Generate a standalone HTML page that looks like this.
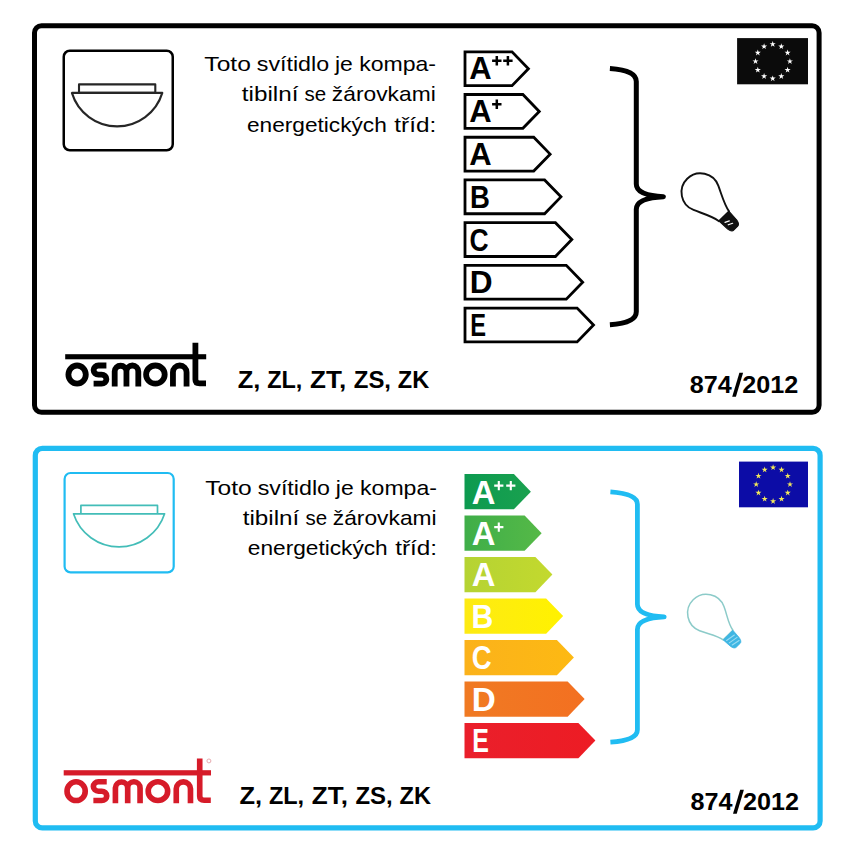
<!DOCTYPE html>
<html lang="cs"><head><meta charset="utf-8"><title>Energy label</title>
<style>html,body{margin:0;padding:0;background:#fff;}body{width:850px;height:850px;overflow:hidden;}svg{display:block;}text{font-family:"Liberation Sans", sans-serif;}</style>
</head><body>
<svg width="850" height="850" viewBox="0 0 850 850">
<rect x="0" y="0" width="850" height="850" fill="#fff"/>
<rect x="34.5" y="25.8" width="784.6" height="386.4" rx="7" ry="7" fill="#fff" stroke="#000" stroke-width="5"/>
<rect x="63.75" y="50.75" width="109" height="99.5" rx="6" ry="6" fill="#fff" stroke="#000" stroke-width="2.5"/>
<g fill="#fff" stroke="#262626" stroke-width="2.10" stroke-linejoin="round">
<rect x="79.00" y="84.40" width="76.30" height="8.50"/>
<path d="M71.90,92.90 L162.30,92.90 A47.24,47.24 0 0 1 71.90,92.90 Z"/>
</g>
<text x="204.38" y="70.70" font-size="21.10" font-weight="normal" fill="#000" text-anchor="start" textLength="46.50" lengthAdjust="spacingAndGlyphs" >Toto</text>
<text x="256.75" y="70.70" font-size="21.10" font-weight="normal" fill="#000" text-anchor="start" textLength="72.42" lengthAdjust="spacingAndGlyphs" >svítidlo</text>
<text x="334.96" y="70.70" font-size="21.10" font-weight="normal" fill="#000" text-anchor="start" textLength="17.86" lengthAdjust="spacingAndGlyphs" >je</text>
<text x="359.15" y="70.70" font-size="21.10" font-weight="normal" fill="#000" text-anchor="start" textLength="76.88" lengthAdjust="spacingAndGlyphs" >kompa-</text>
<text x="241.83" y="101.00" font-size="21.10" font-weight="normal" fill="#000" text-anchor="start" textLength="56.59" lengthAdjust="spacingAndGlyphs" >tibilní</text>
<text x="304.53" y="101.00" font-size="21.10" font-weight="normal" fill="#000" text-anchor="start" textLength="21.68" lengthAdjust="spacingAndGlyphs" >se</text>
<text x="331.88" y="101.00" font-size="21.10" font-weight="normal" fill="#000" text-anchor="start" textLength="103.86" lengthAdjust="spacingAndGlyphs" >žárovkami</text>
<text x="246.94" y="131.80" font-size="21.10" font-weight="normal" fill="#000" text-anchor="start" textLength="139.83" lengthAdjust="spacingAndGlyphs" >energetických</text>
<text x="394.33" y="131.80" font-size="21.10" font-weight="normal" fill="#000" text-anchor="start" textLength="41.89" lengthAdjust="spacingAndGlyphs" >tříd:</text>
<polygon points="465.00,51.80 512.03,51.80 528.42,68.70 512.03,85.60 465.00,85.60" fill="#fff" stroke="#000" stroke-width="2.80" stroke-linejoin="miter"/>
<text x="469.13" y="79.30" font-size="31.83" font-weight="bold" fill="#000" text-anchor="start" textLength="22.39" lengthAdjust="spacingAndGlyphs" >A</text>
<path d="M492.10,60.80 h9.40 M496.80,56.10 v9.40" stroke="#000" stroke-width="2.50" fill="none"/>
<path d="M503.20,60.80 h9.40 M507.90,56.10 v9.40" stroke="#000" stroke-width="2.50" fill="none"/>
<polygon points="465.00,94.52 522.88,94.52 539.27,111.42 522.88,128.32 465.00,128.32" fill="#fff" stroke="#000" stroke-width="2.80" stroke-linejoin="miter"/>
<text x="469.13" y="122.02" font-size="31.83" font-weight="bold" fill="#000" text-anchor="start" textLength="22.39" lengthAdjust="spacingAndGlyphs" >A</text>
<path d="M492.10,104.32 h9.40 M496.80,99.62 v9.40" stroke="#000" stroke-width="2.50" fill="none"/>
<polygon points="465.00,137.24 533.73,137.24 550.12,154.14 533.73,171.04 465.00,171.04" fill="#fff" stroke="#000" stroke-width="2.80" stroke-linejoin="miter"/>
<text x="469.13" y="165.24" font-size="31.83" font-weight="bold" fill="#000" text-anchor="start" textLength="22.39" lengthAdjust="spacingAndGlyphs" >A</text>
<polygon points="465.00,179.96 544.58,179.96 560.97,196.86 544.58,213.76 465.00,213.76" fill="#fff" stroke="#000" stroke-width="2.80" stroke-linejoin="miter"/>
<text x="470.06" y="207.96" font-size="31.83" font-weight="bold" fill="#000" text-anchor="start" textLength="19.89" lengthAdjust="spacingAndGlyphs" >B</text>
<polygon points="465.00,222.68 555.43,222.68 571.82,239.58 555.43,256.48 465.00,256.48" fill="#fff" stroke="#000" stroke-width="2.80" stroke-linejoin="miter"/>
<text x="469.62" y="250.68" font-size="31.83" font-weight="bold" fill="#000" text-anchor="start" textLength="19.11" lengthAdjust="spacingAndGlyphs" >C</text>
<polygon points="465.00,265.40 566.28,265.40 582.67,282.30 566.28,299.20 465.00,299.20" fill="#fff" stroke="#000" stroke-width="2.80" stroke-linejoin="miter"/>
<text x="469.78" y="293.40" font-size="31.83" font-weight="bold" fill="#000" text-anchor="start" textLength="22.84" lengthAdjust="spacingAndGlyphs" >D</text>
<polygon points="465.00,308.12 577.13,308.12 593.52,325.02 577.13,341.92 465.00,341.92" fill="#fff" stroke="#000" stroke-width="2.80" stroke-linejoin="miter"/>
<text x="470.31" y="336.12" font-size="31.83" font-weight="bold" fill="#000" text-anchor="start" textLength="15.81" lengthAdjust="spacingAndGlyphs" >E</text>
<path d="M609.90,68.40 C622.04,69.20 636.30,71.52 636.30,81.40 L636.30,184.10 C636.30,191.53 644.70,195.82 663.40,196.70 C644.70,197.58 636.30,201.87 636.30,209.30 L636.30,311.70 C636.30,321.58 622.04,323.90 609.90,324.70" fill="none" stroke="#000" stroke-width="5.00" stroke-linecap="butt" stroke-linejoin="round"/>
<g transform="translate(700.50,192.30) rotate(45.50)">
<path d="M7.73,17.36 A19.00,19.00 0 1 1 7.73,-17.36 C16.41,-13.49 25.60,-8.20 33.60,-7.00 L33.60,7.00 C25.60,8.20 16.41,13.49 7.73,17.36 Z" fill="#fff" stroke="#111" stroke-width="1.90" stroke-linejoin="round"/>
<path d="M33.60,-7.00 L45.30,-6.40 Q50.30,-5.54 50.30,-2.84 L50.30,2.84 Q50.30,5.54 45.30,6.40 L33.60,7.00 Z" fill="#111" stroke="#111" stroke-width="0.95" stroke-linejoin="round"/>
<path d="M40.61,-0.50 L38.61,3.60 M44.62,-1.20 L42.62,3.00" stroke="#fff" stroke-width="1.20" fill="none" stroke-linecap="round"/>
</g>
<rect x="737.10" y="38.10" width="70.90" height="46.20" fill="#0b0b0b"/>
<polygon points="772.70,41.00 773.42,43.21 775.74,43.21 773.86,44.58 774.58,46.79 772.70,45.42 770.82,46.79 771.54,44.58 769.66,43.21 771.98,43.21" fill="#fff"/>
<polygon points="781.30,43.30 782.02,45.52 784.34,45.52 782.46,46.88 783.18,49.09 781.30,47.73 779.42,49.09 780.14,46.88 778.26,45.52 780.58,45.52" fill="#fff"/>
<polygon points="787.60,49.60 788.31,51.81 790.64,51.81 788.76,53.18 789.48,55.39 787.60,54.02 785.71,55.39 786.43,53.18 784.55,51.81 786.88,51.81" fill="#fff"/>
<polygon points="789.90,58.20 790.62,60.41 792.94,60.41 791.06,61.78 791.78,63.99 789.90,62.62 788.02,63.99 788.74,61.78 786.86,60.41 789.18,60.41" fill="#fff"/>
<polygon points="787.60,66.80 788.31,69.01 790.64,69.01 788.76,70.38 789.48,72.59 787.60,71.22 785.71,72.59 786.43,70.38 784.55,69.01 786.88,69.01" fill="#fff"/>
<polygon points="781.30,73.10 782.02,75.31 784.34,75.31 782.46,76.67 783.18,78.88 781.30,77.52 779.42,78.88 780.14,76.67 778.26,75.31 780.58,75.31" fill="#fff"/>
<polygon points="772.70,75.40 773.42,77.61 775.74,77.61 773.86,78.98 774.58,81.19 772.70,79.82 770.82,81.19 771.54,78.98 769.66,77.61 771.98,77.61" fill="#fff"/>
<polygon points="764.10,73.10 764.82,75.31 767.14,75.31 765.26,76.67 765.98,78.88 764.10,77.52 762.22,78.88 762.94,76.67 761.06,75.31 763.38,75.31" fill="#fff"/>
<polygon points="757.80,66.80 758.52,69.01 760.85,69.01 758.97,70.38 759.69,72.59 757.80,71.22 755.92,72.59 756.64,70.38 754.76,69.01 757.09,69.01" fill="#fff"/>
<polygon points="755.50,58.20 756.22,60.41 758.54,60.41 756.66,61.78 757.38,63.99 755.50,62.62 753.62,63.99 754.34,61.78 752.46,60.41 754.78,60.41" fill="#fff"/>
<polygon points="757.80,49.60 758.52,51.81 760.85,51.81 758.97,53.18 759.69,55.39 757.80,54.02 755.92,55.39 756.64,53.18 754.76,51.81 757.09,51.81" fill="#fff"/>
<polygon points="764.10,43.30 764.82,45.52 767.14,45.52 765.26,46.88 765.98,49.09 764.10,47.73 762.22,49.09 762.94,46.88 761.06,45.52 763.38,45.52" fill="#fff"/>
<g transform="translate(65.20,354.20) scale(1.0000,1.0000)" fill="none" stroke="#000" stroke-width="5.80" stroke-linecap="butt" stroke-linejoin="round">
<rect x="0" y="0" width="141" height="5.1" fill="#000" stroke="none"/>
<ellipse cx="11.9" cy="20.40" rx="8.7" ry="9.10"/>
<path d="M41.20,11.30 L33.25,11.30 A4.85,4.55 0 0 0 33.25,20.40 L36.35,20.40 A4.85,4.55 0 0 1 36.35,29.50 L28.40,29.50"/>
<path d="M49.50,32.40 L49.50,17.18 A5.88,5.88 0 0 1 61.25,17.18 L61.25,32.40 M61.25,17.22 A5.92,5.92 0 0 1 73.10,17.22 L73.10,32.40"/>
<ellipse cx="90.2" cy="20.40" rx="9.3" ry="9.10"/>
<path d="M107.75,32.40 L107.75,18.10 A6.80,6.80 0 0 1 121.35,18.10 L121.35,32.40"/>
<path d="M130.20,-11.4 L130.20,25.30 Q130.20,29.20 134.40,29.20 L140.8,29.20"/>
</g>
<text x="237.80" y="388.20" font-size="24.40" font-weight="bold" fill="#000" text-anchor="start" textLength="22.60" lengthAdjust="spacingAndGlyphs" >Z,</text>
<text x="267.20" y="388.20" font-size="24.40" font-weight="bold" fill="#000" text-anchor="start" textLength="35.20" lengthAdjust="spacingAndGlyphs" >ZL,</text>
<text x="310.10" y="388.20" font-size="24.40" font-weight="bold" fill="#000" text-anchor="start" textLength="36.20" lengthAdjust="spacingAndGlyphs" >ZT,</text>
<text x="353.80" y="388.20" font-size="24.40" font-weight="bold" fill="#000" text-anchor="start" textLength="37.20" lengthAdjust="spacingAndGlyphs" >ZS,</text>
<text x="397.80" y="388.20" font-size="24.40" font-weight="bold" fill="#000" text-anchor="start" textLength="31.40" lengthAdjust="spacingAndGlyphs" >ZK</text>
<text x="689.70" y="392.50" font-size="24.30" font-weight="bold" fill="#000" text-anchor="start" textLength="42.00" lengthAdjust="spacingAndGlyphs" >874</text>
<polygon points="732.20,396.80 735.90,396.80 743.10,372.80 739.40,372.80" fill="#000"/>
<text x="742.20" y="392.50" font-size="24.30" font-weight="bold" fill="#000" text-anchor="start" textLength="56.00" lengthAdjust="spacingAndGlyphs" >2012</text>
<rect x="35.3" y="448.4" width="784.8" height="379.5" rx="7" ry="7" fill="#fff" stroke="#20bcf2" stroke-width="5.2"/>
<rect x="64.6" y="473.0" width="109.1" height="99.4" rx="6" ry="6" fill="#fff" stroke="#20bcf2" stroke-width="2.2"/>
<g fill="#fff" stroke="#43bdb8" stroke-width="1.70" stroke-linejoin="round">
<rect x="80.90" y="505.40" width="76.60" height="8.40"/>
<path d="M73.50,513.80 L164.60,513.80 A47.89,47.89 0 0 1 73.50,513.80 Z"/>
</g>
<text x="205.28" y="494.80" font-size="21.10" font-weight="normal" fill="#000" text-anchor="start" textLength="46.50" lengthAdjust="spacingAndGlyphs" >Toto</text>
<text x="257.65" y="494.80" font-size="21.10" font-weight="normal" fill="#000" text-anchor="start" textLength="72.42" lengthAdjust="spacingAndGlyphs" >svítidlo</text>
<text x="335.86" y="494.80" font-size="21.10" font-weight="normal" fill="#000" text-anchor="start" textLength="17.86" lengthAdjust="spacingAndGlyphs" >je</text>
<text x="360.05" y="494.80" font-size="21.10" font-weight="normal" fill="#000" text-anchor="start" textLength="76.88" lengthAdjust="spacingAndGlyphs" >kompa-</text>
<text x="242.73" y="524.60" font-size="21.10" font-weight="normal" fill="#000" text-anchor="start" textLength="56.59" lengthAdjust="spacingAndGlyphs" >tibilní</text>
<text x="305.43" y="524.60" font-size="21.10" font-weight="normal" fill="#000" text-anchor="start" textLength="21.68" lengthAdjust="spacingAndGlyphs" >se</text>
<text x="332.78" y="524.60" font-size="21.10" font-weight="normal" fill="#000" text-anchor="start" textLength="103.86" lengthAdjust="spacingAndGlyphs" >žárovkami</text>
<text x="247.84" y="555.30" font-size="21.10" font-weight="normal" fill="#000" text-anchor="start" textLength="139.83" lengthAdjust="spacingAndGlyphs" >energetických</text>
<text x="395.23" y="555.30" font-size="21.10" font-weight="normal" fill="#000" text-anchor="start" textLength="41.89" lengthAdjust="spacingAndGlyphs" >tříd:</text>
<defs>
<linearGradient id="g0" x1="0" y1="0" x2="1" y2="0"><stop offset="0" stop-color="#0c9a50"/><stop offset="1" stop-color="#1aa14f"/></linearGradient>
<linearGradient id="g1" x1="0" y1="0" x2="1" y2="0"><stop offset="0" stop-color="#3fae49"/><stop offset="1" stop-color="#55b947"/></linearGradient>
<linearGradient id="g2" x1="0" y1="0" x2="1" y2="0"><stop offset="0" stop-color="#b5d333"/><stop offset="1" stop-color="#c3d92e"/></linearGradient>
<linearGradient id="g3" x1="0" y1="0" x2="1" y2="0"><stop offset="0" stop-color="#fdea14"/><stop offset="1" stop-color="#fff200"/></linearGradient>
<linearGradient id="g4" x1="0" y1="0" x2="1" y2="0"><stop offset="0" stop-color="#fbb21b"/><stop offset="1" stop-color="#fdb913"/></linearGradient>
<linearGradient id="g5" x1="0" y1="0" x2="1" y2="0"><stop offset="0" stop-color="#f07a23"/><stop offset="1" stop-color="#f37021"/></linearGradient>
<linearGradient id="g6" x1="0" y1="0" x2="1" y2="0"><stop offset="0" stop-color="#ea1f2b"/><stop offset="1" stop-color="#ed1c24"/></linearGradient>
</defs>
<polygon points="464.50,474.00 513.90,474.00 530.90,491.65 513.90,509.30 464.50,509.30" fill="url(#g0)"/>
<text x="471.68" y="503.50" font-size="33.87" font-weight="bold" fill="#fff" text-anchor="start" textLength="23.68" lengthAdjust="spacingAndGlyphs" >A</text>
<path d="M494.20,485.60 h9.20 M498.80,481.00 v9.20" stroke="#fff" stroke-width="2.10" fill="none"/>
<path d="M506.20,485.60 h9.20 M510.80,481.00 v9.20" stroke="#fff" stroke-width="2.10" fill="none"/>
<polygon points="464.50,515.48 524.65,515.48 541.65,533.13 524.65,550.78 464.50,550.78" fill="url(#g1)"/>
<text x="471.68" y="544.98" font-size="33.87" font-weight="bold" fill="#fff" text-anchor="start" textLength="23.68" lengthAdjust="spacingAndGlyphs" >A</text>
<path d="M494.20,527.08 h9.20 M498.80,522.48 v9.20" stroke="#fff" stroke-width="2.10" fill="none"/>
<polygon points="464.50,556.96 535.40,556.96 552.40,574.61 535.40,592.26 464.50,592.26" fill="url(#g2)"/>
<text x="471.68" y="586.46" font-size="33.87" font-weight="bold" fill="#fff" text-anchor="start" textLength="23.68" lengthAdjust="spacingAndGlyphs" >A</text>
<polygon points="464.50,598.44 546.15,598.44 563.15,616.09 546.15,633.74 464.50,633.74" fill="url(#g3)"/>
<text x="471.58" y="627.94" font-size="33.87" font-weight="bold" fill="#fff" text-anchor="start" textLength="21.79" lengthAdjust="spacingAndGlyphs" >B</text>
<polygon points="464.50,639.92 556.90,639.92 573.90,657.57 556.90,675.22 464.50,675.22" fill="url(#g4)"/>
<text x="471.87" y="669.42" font-size="33.87" font-weight="bold" fill="#fff" text-anchor="start" textLength="19.88" lengthAdjust="spacingAndGlyphs" >C</text>
<polygon points="464.50,681.40 567.65,681.40 584.65,699.05 567.65,716.70 464.50,716.70" fill="url(#g5)"/>
<text x="471.77" y="710.90" font-size="33.87" font-weight="bold" fill="#fff" text-anchor="start" textLength="24.02" lengthAdjust="spacingAndGlyphs" >D</text>
<polygon points="464.50,722.88 578.40,722.88 595.40,740.53 578.40,758.18 464.50,758.18" fill="url(#g6)"/>
<text x="472.33" y="752.38" font-size="33.87" font-weight="bold" fill="#fff" text-anchor="start" textLength="16.65" lengthAdjust="spacingAndGlyphs" >E</text>
<path d="M610.40,491.80 C622.82,492.60 637.40,494.78 637.40,504.20 L637.40,604.20 C637.40,611.63 645.71,615.92 664.20,616.80 C645.71,617.68 637.40,621.97 637.40,629.40 L637.40,729.80 C637.40,739.22 622.82,741.40 610.40,742.20" fill="none" stroke="#20bcf2" stroke-width="4.80" stroke-linecap="butt" stroke-linejoin="round"/>
<g transform="translate(706.40,613.20) rotate(45.30)">
<path d="M7.65,17.17 A18.80,18.80 0 1 1 7.65,-17.17 C16.33,-13.31 22.80,-8.00 30.80,-6.80 L30.80,6.80 C22.80,8.00 16.33,13.31 7.65,17.17 Z" fill="#fff" stroke="#8ccbc9" stroke-width="1.50" stroke-linejoin="round"/>
<path d="M30.80,-6.80 L40.20,-6.20 Q45.20,-5.42 45.20,-2.72 L45.20,2.72 Q45.20,5.42 40.20,6.20 L30.80,6.80 Z" fill="#3fb6e3" stroke="#3fb6e3" stroke-width="0.75" stroke-linejoin="round"/>
<path d="M35.20,-4.50 L33.60,4.80 M38.80,-4.80 L37.20,4.60 M42.40,-4.00 L40.80,4.00" stroke="#9adcf2" stroke-width="1.10" fill="none" stroke-linecap="round"/>
</g>
<rect x="739.00" y="461.60" width="69.00" height="45.70" fill="#0c0ca6"/>
<polygon points="773.10,464.30 773.82,466.51 776.14,466.51 774.26,467.88 774.98,470.09 773.10,468.72 771.22,470.09 771.94,467.88 770.06,466.51 772.38,466.51" fill="#f3e85a"/>
<polygon points="781.55,466.56 782.27,468.78 784.59,468.78 782.71,470.14 783.43,472.35 781.55,470.99 779.67,472.35 780.39,470.14 778.51,468.78 780.83,468.78" fill="#f3e85a"/>
<polygon points="787.74,472.75 788.45,474.96 790.78,474.96 788.90,476.33 789.62,478.54 787.74,477.17 785.85,478.54 786.57,476.33 784.69,474.96 787.02,474.96" fill="#f3e85a"/>
<polygon points="790.00,481.20 790.72,483.41 793.04,483.41 791.16,484.78 791.88,486.99 790.00,485.62 788.12,486.99 788.84,484.78 786.96,483.41 789.28,483.41" fill="#f3e85a"/>
<polygon points="787.74,489.65 788.45,491.86 790.78,491.86 788.90,493.23 789.62,495.44 787.74,494.07 785.85,495.44 786.57,493.23 784.69,491.86 787.02,491.86" fill="#f3e85a"/>
<polygon points="781.55,495.84 782.27,498.05 784.59,498.05 782.71,499.41 783.43,501.62 781.55,500.26 779.67,501.62 780.39,499.41 778.51,498.05 780.83,498.05" fill="#f3e85a"/>
<polygon points="773.10,498.10 773.82,500.31 776.14,500.31 774.26,501.68 774.98,503.89 773.10,502.52 771.22,503.89 771.94,501.68 770.06,500.31 772.38,500.31" fill="#f3e85a"/>
<polygon points="764.65,495.84 765.37,498.05 767.69,498.05 765.81,499.41 766.53,501.62 764.65,500.26 762.77,501.62 763.49,499.41 761.61,498.05 763.93,498.05" fill="#f3e85a"/>
<polygon points="758.46,489.65 759.18,491.86 761.51,491.86 759.63,493.23 760.35,495.44 758.46,494.07 756.58,495.44 757.30,493.23 755.42,491.86 757.75,491.86" fill="#f3e85a"/>
<polygon points="756.20,481.20 756.92,483.41 759.24,483.41 757.36,484.78 758.08,486.99 756.20,485.62 754.32,486.99 755.04,484.78 753.16,483.41 755.48,483.41" fill="#f3e85a"/>
<polygon points="758.46,472.75 759.18,474.96 761.51,474.96 759.63,476.33 760.35,478.54 758.46,477.17 756.58,478.54 757.30,476.33 755.42,474.96 757.75,474.96" fill="#f3e85a"/>
<polygon points="764.65,466.56 765.37,468.78 767.69,468.78 765.81,470.14 766.53,472.35 764.65,470.99 762.77,472.35 763.49,470.14 761.61,468.78 763.93,468.78" fill="#f3e85a"/>
<g transform="translate(63.70,770.20) scale(1.0447,1.0300)" fill="none" stroke="#d61b29" stroke-width="5.40" stroke-linecap="butt" stroke-linejoin="round">
<rect x="0" y="0" width="141" height="5.1" fill="#d61b29" stroke="none"/>
<ellipse cx="11.9" cy="20.40" rx="8.7" ry="9.10"/>
<path d="M41.20,11.30 L33.25,11.30 A4.85,4.55 0 0 0 33.25,20.40 L36.35,20.40 A4.85,4.55 0 0 1 36.35,29.50 L28.40,29.50"/>
<path d="M49.50,32.20 L49.50,17.18 A5.88,5.88 0 0 1 61.25,17.18 L61.25,32.20 M61.25,17.22 A5.92,5.92 0 0 1 73.10,17.22 L73.10,32.20"/>
<ellipse cx="90.2" cy="20.40" rx="9.3" ry="9.10"/>
<path d="M107.75,32.20 L107.75,18.10 A6.80,6.80 0 0 1 121.35,18.10 L121.35,32.20"/>
<path d="M130.20,-11.4 L130.20,25.30 Q130.20,29.20 134.40,29.20 L140.8,29.20"/>
<circle cx="139.0" cy="-9.0" r="1.9" stroke="#e5a3a8" stroke-width="0.9"/>
</g>
<text x="239.50" y="803.90" font-size="24.40" font-weight="bold" fill="#000" text-anchor="start" textLength="22.60" lengthAdjust="spacingAndGlyphs" >Z,</text>
<text x="268.90" y="803.90" font-size="24.40" font-weight="bold" fill="#000" text-anchor="start" textLength="35.20" lengthAdjust="spacingAndGlyphs" >ZL,</text>
<text x="311.80" y="803.90" font-size="24.40" font-weight="bold" fill="#000" text-anchor="start" textLength="36.20" lengthAdjust="spacingAndGlyphs" >ZT,</text>
<text x="355.50" y="803.90" font-size="24.40" font-weight="bold" fill="#000" text-anchor="start" textLength="37.20" lengthAdjust="spacingAndGlyphs" >ZS,</text>
<text x="399.50" y="803.90" font-size="24.40" font-weight="bold" fill="#000" text-anchor="start" textLength="31.40" lengthAdjust="spacingAndGlyphs" >ZK</text>
<text x="690.50" y="809.50" font-size="24.30" font-weight="bold" fill="#000" text-anchor="start" textLength="42.00" lengthAdjust="spacingAndGlyphs" >874</text>
<polygon points="733.00,813.80 736.70,813.80 743.90,789.80 740.20,789.80" fill="#000"/>
<text x="743.00" y="809.50" font-size="24.30" font-weight="bold" fill="#000" text-anchor="start" textLength="56.00" lengthAdjust="spacingAndGlyphs" >2012</text>
</svg>
</body></html>
